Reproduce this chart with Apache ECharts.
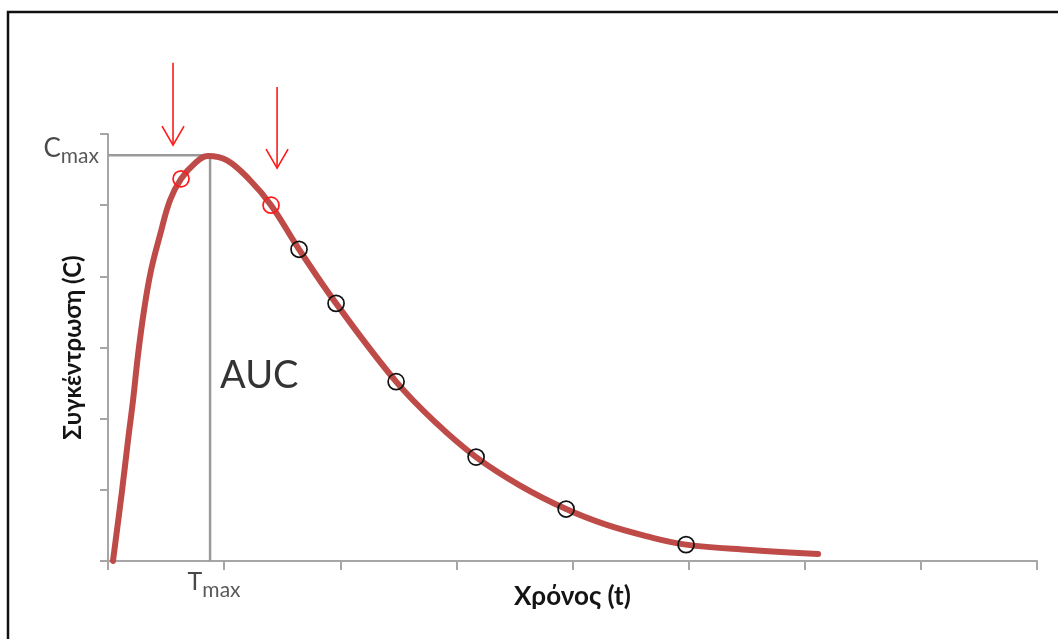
<!DOCTYPE html>
<html>
<head>
<meta charset="utf-8">
<title>Συγκέντρωση – Χρόνος</title>
<script src="https://cdn.jsdelivr.net/npm/echarts@6/dist/echarts.min.js"></script>
<style>
  html, body { margin: 0; padding: 0; background: #fff; }
  #chart { width: 1058px; height: 639px; }
</style>
</head>
<body>
<div id="chart"></div>
<script>
// Concentration–time profile (arbitrary units)
const curveTime = [0.043, 0.121, 0.172, 0.215, 0.258, 0.310, 0.370, 0.448, 0.534, 0.629, 0.749, 0.861,
                   1.025, 1.223, 1.404, 1.645, 1.964, 2.481, 2.825, 3.170, 3.549, 3.945,
                   4.289, 4.634, 4.978, 5.530, 6.115];
const curveConc = [0.00, 0.99, 1.69, 2.25, 2.89, 3.52, 4.08, 4.58, 5.07, 5.37, 5.59, 5.69,
                   5.63, 5.35, 5.00, 4.38, 3.62, 2.52, 1.94, 1.46, 1.06, 0.73,
                   0.51, 0.35, 0.23, 0.155, 0.10];

// Sampling points around the peak (red) and in the elimination phase (black)
const peakSampleTime = [0.629, 1.404];
const peakSampleConc = [5.37, 5.00];
const tailSampleTime = [1.645, 1.964, 2.481, 3.170, 3.945, 4.978];
const tailSampleConc = [4.38, 3.62, 2.52, 1.46, 0.73, 0.23];

// Peak reference values
const tMax = 0.879;
const cMax = 5.70;

// Arrows pointing at the peak samples: x, start level, tip level
const arrowTime = [0.560, 1.456];
const arrowStart = [7.00, 6.66];
const arrowTip = [5.845, 5.52];

const zip = (xs, ys) => xs.map((x, i) => [x, ys[i]]);

const LATIN = 'Lato, "Open Sans", sans-serif';
const GREEK = 'Lato, "Open Sans", "Noto Sans", sans-serif';
const AXIS_GREY = '#a6a6a6';

// hollow ring marker drawn at a data point
function ringSeries(name, xs, ys, color, radius) {
  return {
    name: name,
    type: 'custom',
    silent: true,
    z: 5,
    data: zip(xs, ys),
    renderItem: function (params, api) {
      const p = api.coord([api.value(0), api.value(1)]);
      return {
        type: 'circle',
        shape: { cx: p[0], cy: p[1], r: radius },
        style: { fill: 'rgba(255,255,255,0)', stroke: color, lineWidth: 1.7 }
      };
    }
  };
}

const chart = echarts.init(document.getElementById('chart'), null, { renderer: 'canvas' });

chart.setOption({
  backgroundColor: '#ffffff',
  animation: false,
  grid: { left: 108, right: 21, top: 134, bottom: 78, containLabel: false },
  xAxis: {
    type: 'value',
    min: 0, max: 8, interval: 1,
    name: 'Χρόνος (t)',
    nameLocation: 'middle',
    nameGap: 23,
    nameTextStyle: { fontFamily: GREEK, fontWeight: 'bold', fontSize: 26, color: '#141414' },
    axisLine: { show: true, lineStyle: { color: AXIS_GREY, width: 2 } },
    axisTick: { show: true, length: 9, lineStyle: { color: AXIS_GREY, width: 2 } },
    axisLabel: { show: false },
    splitLine: { show: false }
  },
  yAxis: {
    type: 'value',
    min: 0, max: 6, interval: 1,
    name: 'Συγκέντρωση (C)',
    nameLocation: 'middle',
    nameRotate: 90,
    nameGap: 23,
    nameTextStyle: { fontFamily: GREEK, fontWeight: 'bold', fontSize: 24, color: '#141414' },
    axisLine: { show: true, lineStyle: { color: AXIS_GREY, width: 2 } },
    axisTick: { show: true, length: 8, lineStyle: { color: AXIS_GREY, width: 2 } },
    axisLabel: { show: false },
    splitLine: { show: false }
  },
  series: [
    {
      // Cmax / Tmax guide lines
      name: 'guides',
      type: 'line',
      data: [[0, cMax], [tMax, cMax], [tMax, 0]],
      symbol: 'none',
      lineStyle: { color: '#9a9a9a', width: 2.5 },
      z: 2,
      silent: true
    },
    {
      name: 'C(t)',
      type: 'line',
      data: zip(curveTime, curveConc),
      smooth: 0.4,
      symbol: 'none',
      lineStyle: { color: '#BE4B48', width: 6, cap: 'round', join: 'round' },
      z: 3,
      silent: true
    },
    ringSeries('peak samples', peakSampleTime, peakSampleConc, '#ff1a1a', 8),
    ringSeries('tail samples', tailSampleTime, tailSampleConc, '#111111', 8),
    {
      // Cmax / Tmax / AUC annotations
      name: 'labels',
      type: 'scatter',
      symbolSize: 0,
      silent: true,
      z: 6,
      data: [
        {
          value: [0, cMax],
          label: {
            show: true, position: 'left', distance: 9, offset: [0, -7],
            formatter: '{c|C}{m|max}',
            rich: {
              c: { fontFamily: LATIN, fontSize: 26, lineHeight: 26, color: '#1c1c1c' },
              m: { fontFamily: LATIN, fontSize: 21, lineHeight: 26, padding: [16, 0, 0, 0], color: '#2e2e2e' }
            }
          }
        },
        {
          value: [tMax, 0],
          label: {
            show: true, position: 'bottom', distance: 8, offset: [4, 0],
            formatter: '{c|T}{m|max}',
            rich: {
              c: { fontFamily: LATIN, fontSize: 25, lineHeight: 26, color: '#1c1c1c' },
              m: { fontFamily: LATIN, fontSize: 21, lineHeight: 26, padding: [16, 0, 0, 0], color: '#2e2e2e' }
            }
          }
        },
        {
          value: [tMax, 2.6],
          label: {
            show: true, position: 'right', distance: 10,
            formatter: 'AUC',
            fontFamily: LATIN, fontSize: 38, color: '#000000'
          }
        }
      ]
    },
    {
      name: 'arrows',
      type: 'custom',
      clip: false,
      silent: true,
      z: 7,
      data: arrowTime.map((t, i) => [t, arrowStart[i], arrowTip[i]]),
      renderItem: function (params, api) {
        const from = api.coord([api.value(0), api.value(1)]);
        const to = api.coord([api.value(0), api.value(2)]);
        const style = { stroke: '#ff1a1a', lineWidth: 1.6, fill: null };
        return {
          type: 'group',
          children: [
            { type: 'line', shape: { x1: from[0], y1: from[1], x2: to[0], y2: to[1] }, style: style },
            { type: 'polyline', shape: { points: [[to[0] - 11, to[1] - 19], [to[0], to[1]], [to[0] + 11, to[1] - 19]] }, style: style }
          ]
        };
      }
    }
  ],
  graphic: [
    {
      // frame around the figure
      type: 'rect',
      shape: { x: 8, y: 12, width: 1200, height: 800 },
      style: { fill: null, stroke: '#111111', lineWidth: 2.5 },
      silent: true,
      z: 100
    }
  ]
});
</script>
</body>
</html>
